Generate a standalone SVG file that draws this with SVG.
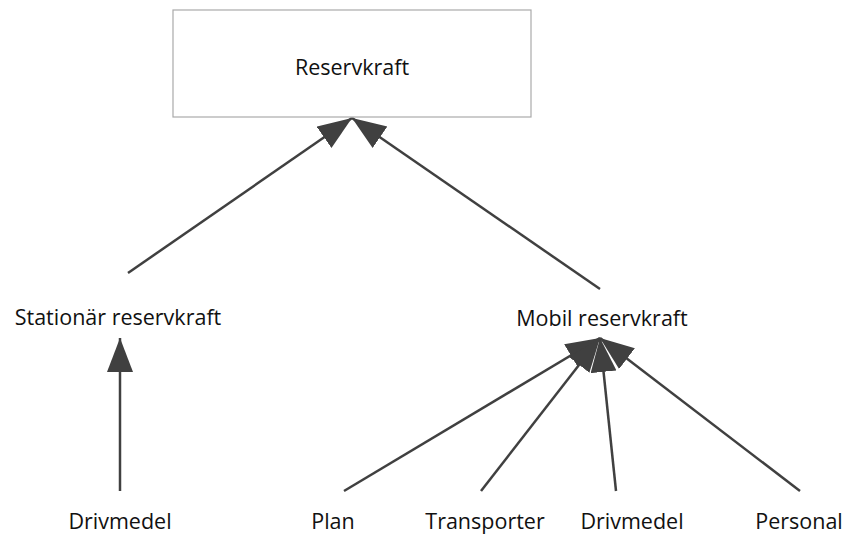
<svg xmlns="http://www.w3.org/2000/svg" width="843" height="535" viewBox="0 0 843 535">
<style>
text{font-family:"Open Sans","Liberation Sans",sans-serif;font-size:21.5px;fill:#111;text-anchor:middle}
.box{fill:#fff;stroke:#aaa;stroke-width:1.2}
.edge{stroke:#404040;stroke-width:2.5;fill:none;marker-end:url(#ah)}
</style>
<defs>
<marker id="ah" markerUnits="userSpaceOnUse" markerWidth="36" markerHeight="28" refX="34" refY="13" orient="auto" viewBox="0 0 36 28">
<path d="M0,0 L34,13 L0,26 z" fill="#404040"/>
</marker>
</defs>
<rect width="843" height="535" fill="#fff"/>
<g id="connectors">
<line class="edge" x1="128" y1="273" x2="352" y2="118"/>
<line class="edge" x1="600" y1="289" x2="352" y2="118"/>
<line class="edge" x1="120" y1="491" x2="120" y2="338"/>
<line class="edge" x1="344" y1="491" x2="600" y2="338"/>
<line class="edge" x1="481" y1="491" x2="600" y2="338"/>
<line class="edge" x1="616" y1="491" x2="600" y2="338"/>
<line class="edge" x1="800" y1="491" x2="600" y2="338"/>
</g>
<g id="reservkraft">
<rect class="box" x="173" y="10" width="358" height="107"/>
<text x="352" y="75">Reservkraft</text>
</g>
<g id="stationar"><text x="118" y="325">Stationär reservkraft</text></g>
<g id="mobil"><text x="602" y="326">Mobil reservkraft</text></g>
<g id="drivmedel1"><text x="120" y="529">Drivmedel</text></g>
<g id="plan"><text x="333" y="529">Plan</text></g>
<g id="transporter"><text x="485" y="529">Transporter</text></g>
<g id="drivmedel2"><text x="632" y="529">Drivmedel</text></g>
<g id="personal"><text x="799" y="529">Personal</text></g>
</svg>
